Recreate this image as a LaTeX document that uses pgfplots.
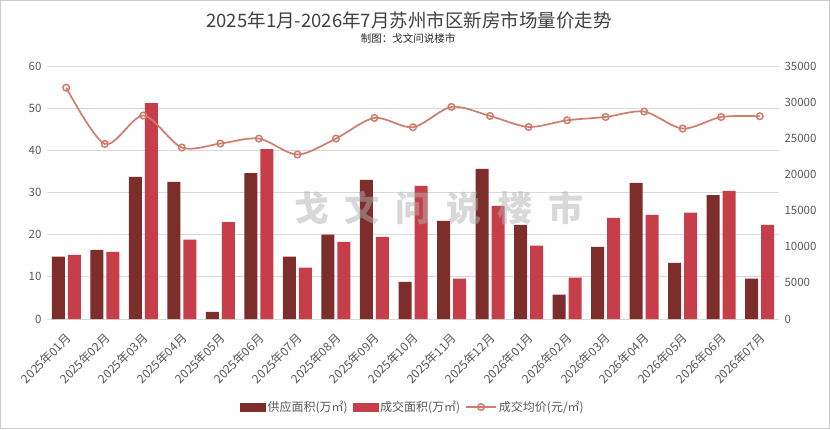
\documentclass[border=0pt]{standalone}
\usepackage{fontspec}
\setmainfont{Noto Sans CJK SC}
\usepackage{pgfplots}
\pgfplotsset{compat=1.18}
\definecolor{supc}{RGB}{125,45,42}
\definecolor{salc}{RGB}{199,62,75}
\definecolor{linc}{RGB}{206,125,110}
\definecolor{gridc}{RGB}{217,217,217}
\definecolor{tickc}{RGB}{89,89,89}
\definecolor{titc}{RGB}{64,64,64}
\pgfplotsset{
  lineleg/.style={legend image code/.code={\draw[mark repeat=2,mark phase=2,##1] plot coordinates {(0pt,0pt) (15pt,0pt) (30pt,0pt)};}},
  supleg/.style={legend image code/.code={\fill[supc] (0pt,-4pt) rectangle (25pt,4pt);}},
  salleg/.style={legend image code/.code={\fill[salc] (0pt,-4pt) rectangle (25pt,4pt);}},
}
\begin{document}
\begin{tikzpicture}
\useasboundingbox (0pt,0pt) rectangle (830pt,429pt);
\fill[white] (0pt,0pt) rectangle (830pt,429pt);
\draw[gray!40] (0.5pt,0.5pt) rectangle (829.5pt,428.5pt);
\node[font=\fontsize{18.5}{20}\selectfont, text=titc] at (409pt,409pt) {2025年1月-2026年7月苏州市区新房市场量价走势};
\node[font=\fontsize{10.5}{12}\selectfont, text=black!85] at (408pt,391pt) {制图：戈文问说楼市};
\begin{axis}[
  at={(47pt,110pt)}, anchor=south west, scale only axis,
  width=732pt, height=253pt,
  xmin=-0.5, xmax=18.5, ymin=0, ymax=60,
  ytick={0,10,...,60},
  ymajorgrids, grid style={draw=gridc, line width=0.8pt},
  axis x line*=bottom, axis y line*=left,
  x axis line style={draw=gridc, line width=0.8pt, -},
  y axis line style={draw=none},
  major tick length=0pt,
  xtick={0,...,18},
  xticklabels={2025年01月,2025年02月,2025年03月,2025年04月,2025年05月,2025年06月,2025年07月,2025年08月,2025年09月,2025年10月,2025年11月,2025年12月,2026年01月,2026年02月,2026年03月,2026年04月,2026年05月,2026年06月,2026年07月},
  xticklabel style={rotate=45, anchor=north east, font=\fontsize{12}{13}\selectfont, text=tickc, inner sep=1pt, xshift=-9pt, yshift=-7pt},
  yticklabel style={font=\fontsize{11.5}{13}\selectfont, text=tickc, xshift=-2pt},
  /pgf/number format/assume math mode=true,
]
\addplot[ybar, bar width=13pt, bar shift=-8pt, fill=supc, draw=none] coordinates {
(0,14.8) (1,16.4) (2,33.7) (3,32.5) (4,1.7) (5,34.6) (6,14.8) (7,20.0) (8,33.0) (9,8.8)
(10,23.3) (11,35.6) (12,22.3) (13,5.8) (14,17.1) (15,32.3) (16,13.3) (17,29.4) (18,9.55)};
\addplot[ybar, bar width=13pt, bar shift=8pt, fill=salc, draw=none] coordinates {
(0,15.2) (1,15.9) (2,51.2) (3,18.8) (4,23.0) (5,40.3) (6,12.2) (7,18.3) (8,19.5) (9,31.6)
(10,9.55) (11,26.8) (12,17.4) (13,9.8) (14,24.0) (15,24.7) (16,25.2) (17,30.4) (18,22.3)};
\end{axis}
\begin{axis}[
  at={(47pt,110pt)}, anchor=south west, scale only axis,
  width=732pt, height=253pt,
  xmin=-0.5, xmax=18.5, ymin=0, ymax=35000,
  ytick={0,5000,...,35000},
  axis x line=none, axis y line*=right,
  y axis line style={draw=none},
  major tick length=0pt,
  yticklabel style={font=\fontsize{11.5}{13}\selectfont, text=tickc, xshift=2pt},
  /pgf/number format/assume math mode=true,
  /pgf/number format/1000 sep={},
  scaled y ticks=false,
  legend columns=3,
  legend style={at={(0.5,-0.348)}, anchor=center, draw=none, fill=none,
    font=\fontsize{12}{13}\selectfont, text=tickc,
    /tikz/every even column/.append style={column sep=3pt},
    inner sep=0pt, nodes={inner sep=2pt}},
]
\addlegendimage{supleg}
\addlegendentry{供应面积(万㎡)}
\addlegendimage{salleg}
\addlegendentry{成交面积(万㎡)}
\addplot[color=linc, line width=1.7pt, smooth, tension=0.5, mark=o, mark size=3.3pt,
  mark options={fill=white, line width=1.5pt}, lineleg] coordinates {
(0,32000) (1,24220) (2,28140) (3,23720) (4,24270) (5,24960) (6,22750) (7,24960) (8,27820) (9,26530)
(10,29340) (11,28090) (12,26570) (13,27490) (14,27950) (15,28690) (16,26340) (17,27950) (18,28050)};
\addlegendentry{成交均价(元/㎡)}
\end{axis}
\node[font=\fontsize{35}{38}\selectfont\bfseries, text=black!30, opacity=0.5] at (439pt,221pt) {戈\hspace{16pt}文\hspace{16pt}问\hspace{16pt}说\hspace{16pt}楼\hspace{16pt}市};
\end{tikzpicture}
\end{document}
